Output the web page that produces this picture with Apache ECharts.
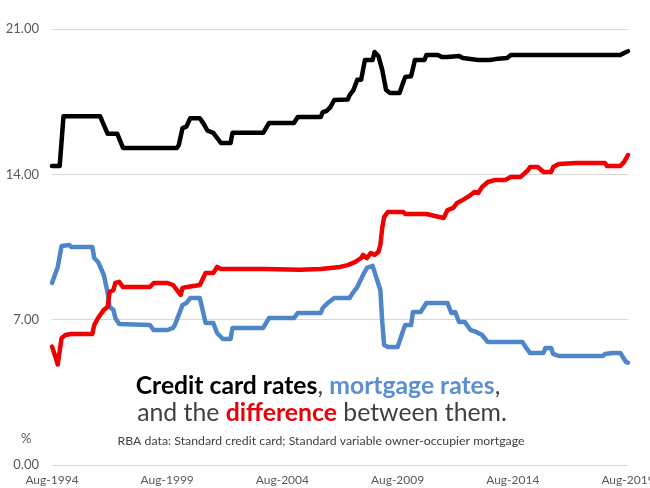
<!DOCTYPE html>
<html>
<head>
<meta charset="utf-8">
<script src="https://cdn.jsdelivr.net/npm/echarts@6/dist/echarts.min.js"></script>
<style>html,body{margin:0;padding:0;background:#fff}#c{width:650px;height:488px}</style>
</head>
<body>
<div id="c"></div>
<script>
// month index from Aug-1994 (0) to Aug-2019 (300)
const tickLabels = ['Aug-1994','Aug-1999','Aug-2004','Aug-2009','Aug-2014','Aug-2019'];
const tickMonths = [0, 60, 120, 180, 240, 300];
const yTicks = [0, 7, 14, 21];

const creditCard = [
  [0,14.4],[4,14.4],[6,16.8],[25,16.8],[29,15.95],[34,15.95],[37,15.27],[65,15.27],
  [66,15.4],[68,16.23],[70,16.3],[72,16.7],[77,16.7],[79,16.43],[81,16.1],[84,16.0],
  [88,15.51],[93,15.51],[94,16.0],[110,16.0],[113,16.47],[126,16.47],[128,16.76],[140,16.76],
  [141,17.0],[143,17.05],[145,17.24],[147,17.58],[154,17.6],[155,17.82],[157,18.06],[159,18.55],
  [161,18.55],[163,19.51],[167,19.51],[168,19.89],[170,19.7],[172,19.03],[173,18.55],[174,18.06],
  [176,17.92],[181,17.92],[183,18.45],[184,18.69],[187,18.72],[188,19.1],[189,19.51],[194,19.51],
  [195,19.75],[201,19.75],[203,19.65],[206,19.65],[212,19.7],[214,19.6],[222,19.51],[228,19.51],
  [231,19.55],[237,19.6],[239,19.75],[296,19.75],[299,19.89],[300,19.93]
];

const mortgage = [
  [0,8.77],[3,9.54],[5,10.55],[6,10.6],[9,10.6],[10,10.5],[21,10.5],[22,9.97],[24,9.78],
  [27,9.15],[29,8.29],[30,7.61],[32,7.47],[33,7.08],[35,6.79],[36,6.74],[51,6.74],[53,6.5],
  [60,6.5],[63,6.6],[64,6.74],[66,7.23],[68,7.71],[70,7.8],[72,8.04],[77,8.04],[80,6.84],
  [84,6.84],[86,6.36],[89,6.07],[93,6.07],[94,6.6],[110,6.6],[113,7.08],[126,7.08],[128,7.32],
  [140,7.32],[141,7.56],[143,7.75],[147,8.04],[155,8.04],[157,8.33],[159,8.57],[162,9.15],
  [164,9.49],[167,9.59],[168,9.55],[171,8.43],[172,6.89],[173,5.78],[175,5.68],[180,5.68],
  [183,6.5],[184,6.74],[187,6.74],[188,7.37],[192,7.37],[195,7.8],[206,7.8],[208,7.32],
  [210,7.37],[212,6.89],[215,6.89],[218,6.5],[221,6.41],[224,6.26],[227,5.92],[245,5.92],
  [247,5.64],[249,5.39],[256,5.39],[257,5.64],[260,5.64],[261,5.35],[264,5.25],[287,5.25],
  [288,5.35],[292,5.39],[296,5.39],[299,4.96],[300,4.93]
];

const difference = [
  [0,5.7],[2,5.15],[3,4.84],[5,6.12],[7,6.26],[10,6.31],[21,6.31],[22,6.74],[24,7.08],
  [27,7.47],[29,7.61],[30,8.33],[32,8.43],[33,8.77],[35,8.82],[37,8.57],[51,8.57],[53,8.77],
  [60,8.77],[63,8.67],[65,8.43],[67,8.19],[68,8.53],[72,8.6],[77,8.67],[80,9.25],[84,9.25],
  [86,9.54],[88,9.44],[111,9.44],[129,9.4],[140,9.44],[150,9.54],[154,9.63],[158,9.78],
  [161,9.97],[162,10.12],[164,9.97],[166,10.21],[168,10.12],[170,10.26],[171,10.6],[172,11.42],
  [173,11.95],[175,12.19],[183,12.19],[184,12.09],[195,12.09],[196,12.0],[204,11.9],[206,12.28],
  [209,12.38],[211,12.62],[214,12.77],[218,13.0],[220,13.15],[222,13.1],[224,13.39],[227,13.63],
  [231,13.73],[236,13.73],[239,13.87],[244,13.87],[248,14.21],[249,14.35],[253,14.35],[256,14.11],
  [260,14.11],[261,14.35],[264,14.5],[273,14.55],[288,14.55],[289,14.4],[296,14.4],[298,14.6],
  [300,14.93]
];

const FONT = 'Lato, "Open Sans", sans-serif';
const chart = echarts.init(document.getElementById('c'), null, {renderer:'canvas'});
const lineStyle = (c) => ({width: 4.5, color: c, join: 'round', cap: 'round'});
chart.setOption({
  animation: false,
  backgroundColor: '#fff',
  grid: {left: 52, right: 22, top: 29, bottom: 23, containLabel: false, outerBoundsMode: 'none'},
  xAxis: {
    type: 'value', min: 0, max: 300, interval: 60,
    axisLine: {show: false}, axisTick: {show: false}, splitLine: {show: false},
    axisLabel: {show: false}
  },
  yAxis: {
    type: 'value', min: yTicks[0], max: yTicks[yTicks.length - 1], interval: 7,
    axisLine: {show: false}, axisTick: {show: false},
    splitLine: {lineStyle: {color: '#d9d9d9', width: 1}},
    axisLabel: {color: '#595959', fontFamily: FONT, fontSize: 13, margin: 13,
      formatter: (v) => v.toFixed(2)}
  },
  series: [
    {type: 'line', data: creditCard, showSymbol: false, lineStyle: lineStyle('#000000'), z: 2},
    {type: 'line', data: mortgage, showSymbol: false, lineStyle: lineStyle('#4f86c9'), z: 3},
    {type: 'line', data: difference, showSymbol: false, lineStyle: lineStyle('#f00000'), z: 4}
  ],
  graphic: [
    {type: 'text', left: 21, top: 432, style: {text: '%', fill: '#595959', font: '13px ' + FONT}},
    {type: 'text', x: 318, y: 386, style: {
      text: '{k|Credit card rates}{g|, }{b|mortgage rates}{g|,}',
      align: 'center', verticalAlign: 'middle',
      rich: {
        k: {fill: '#000', fontWeight: 'bold', fontSize: 24.7, fontFamily: FONT},
        g: {fill: '#404040', fontSize: 24.7, fontFamily: FONT},
        b: {fill: '#5b8fd0', fontWeight: 'bold', fontSize: 24.7, fontFamily: FONT}
      }
    }},
    {type: 'text', x: 322, y: 413, style: {
      text: '{g|and the }{r|difference}{g| between them.}',
      align: 'center', verticalAlign: 'middle',
      rich: {
        g: {fill: '#404040', fontSize: 24.8, fontFamily: FONT},
        r: {fill: '#e8000b', fontWeight: 'bold', fontSize: 24.8, fontFamily: FONT}
      }
    }},
    {type: 'text', x: 321, y: 441, style: {
      text: 'RBA data: Standard credit card; Standard variable owner-occupier mortgage',
      align: 'center', verticalAlign: 'middle', fill: '#404040', font: '12.3px ' + FONT
    }}
  ]
});
// x-axis tick labels placed through the axis scale
const baseY = chart.convertToPixel({yAxisIndex: 0}, 0);
chart.setOption({
  graphic: tickMonths.map((m, i) => ({
    type: 'text', id: 'xl' + i,
    x: chart.convertToPixel({xAxisIndex: 0}, m), y: baseY + 15,
    style: {text: tickLabels[i], align: 'center', verticalAlign: 'middle',
      fill: '#595959', font: '12px ' + FONT}
  }))
});
</script>
</body>
</html>
